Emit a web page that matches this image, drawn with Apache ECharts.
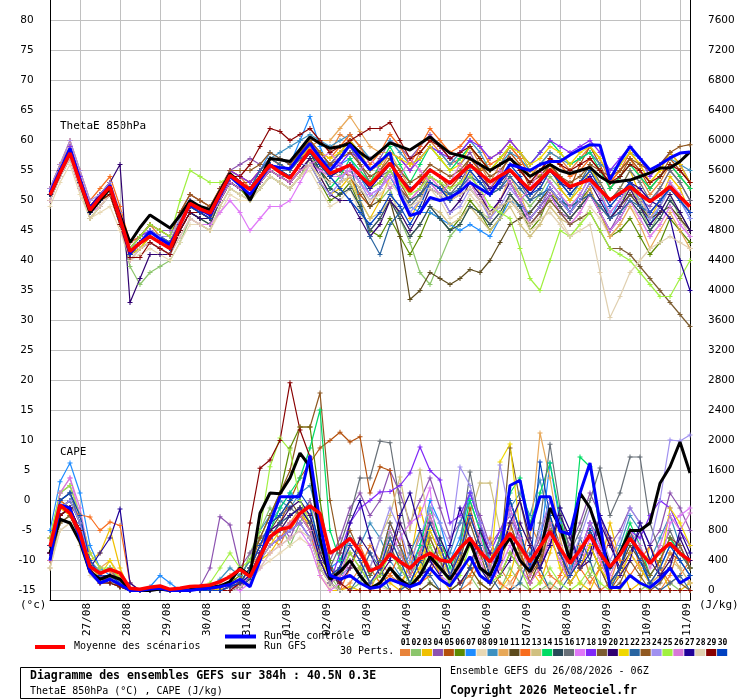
<!DOCTYPE html>
<html>
<head>
<meta charset="utf-8">
<title>Diagramme des ensembles GEFS</title>
<script src="https://cdn.jsdelivr.net/npm/echarts@6.0.0/dist/echarts.min.js"></script>
<style>
  html, body { margin: 0; padding: 0; background: #fff; }
  #chart { width: 740px; height: 700px; }
</style>
</head>
<body>
<div id="chart"></div>
<script>
// run 26/08/2026 06Z, 6h steps up to 384h
const runStartUtc = Date.UTC(2026, 7, 26, 6);
const stepHours = 6;
const stepCount = 65;

const thetaTicks = { min: -15, max: 80, interval: 5 };
const capeTicks = { min: 0, max: 7600, interval: 400 };

// ensemble mean, control run, GFS run
const meanTheta = [
  50.9,54.6,57.9,53.0,48.4,50.5,52.3,47.0,41.5,42.9,44.0,43.0,42.0,
  45.9,49.5,48.6,47.9,51.1,54.2,53.0,51.8,53.9,55.9,54.7,53.7,56.1,
  58.4,56.4,54.5,55.2,55.9,54.2,52.6,54.4,56.2,53.8,51.5,53.3,55.1,
  54.0,52.9,54.4,55.9,54.5,53.1,54.1,55.1,53.4,51.8,53.4,55.1,53.7,
  52.3,52.9,53.5,51.8,50.1,51.2,52.3,51.0,49.8,51.0,52.3,50.6,49.0];
const ctrlTheta = [
  51.3,55.0,58.7,53.5,48.7,50.6,52.5,47.0,41.2,43.0,44.8,43.6,42.6,
  46.0,49.3,48.5,47.6,50.8,54.0,52.5,51.0,53.5,55.8,55.5,55.3,57.5,
  59.5,57.2,55.0,57.0,59.3,57.2,55.1,56.5,58.0,51.0,47.5,48.0,50.5,
  50.0,50.5,51.5,53.0,52.0,51.0,53.5,56.0,55.5,55.0,56.0,56.5,56.5,
  57.6,58.5,59.3,59.2,53.5,56.5,59.0,57.0,55.1,56.0,57.1,57.9,58.1];
const gfsTheta = [
  50.8,54.5,58.2,53.0,48.0,50.0,52.0,47.5,43.0,45.5,47.6,46.5,45.4,
  47.5,50.0,49.0,48.5,51.5,54.5,53.0,50.0,53.5,57.0,56.8,56.5,58.5,
  60.6,59.5,58.7,59.0,59.5,58.0,56.8,58.2,59.6,59.0,58.4,59.5,60.6,
  59.2,57.9,57.5,57.0,56.0,55.0,56.0,57.0,55.5,54.0,55.0,56.0,55.0,
  54.5,55.0,55.5,54.0,53.0,53.2,53.4,54.0,54.6,55.4,55.4,56.5,58.1];

const meanCape = [
  584,1140,1029,762,318,229,282,233,29,16,43,60,16,
  29,53,60,73,118,184,282,184,451,718,816,842,1029,
  1127,1029,496,584,696,518,260,318,487,384,296,429,496,
  407,384,562,696,518,384,584,762,584,384,584,784,562,
  362,540,740,496,318,473,696,518,363,518,629,496,398];
const ctrlCape = [
  400,1140,1100,700,250,100,150,80,0,0,20,30,0,
  0,0,20,30,50,80,150,50,400,900,1250,1250,1250,
  1800,900,200,150,200,100,30,50,150,100,50,100,300,
  150,60,250,450,200,100,400,1400,1470,800,1250,1250,790,
  750,1300,1700,900,40,40,200,100,40,150,300,100,180];
const gfsCape = [
  500,950,900,650,250,150,200,150,10,0,0,20,0,
  0,10,30,40,60,120,300,200,1030,1300,1290,1500,1833,
  1650,700,150,250,400,200,30,100,300,150,50,200,450,
  300,150,350,650,300,200,500,700,400,250,500,1100,850,
  400,1300,1100,700,300,500,800,800,900,1430,1650,1980,1567];

// perturbations 01..30, ThetaE 850hPa (degC)
const theta01 = [51,55,59,54,49,51,53,48,42,44,46,44,43, 47,50,49,48,52,55,54,52,55,57,56,55,57, 59,60,58,61,60,56,53,55,58,57,55,58,60, 58,56,57,59,56,53,56,59,57,54,56,58,57, 55,57,59,57,53,55,57,54,51,53,56,54,52];
const theta02 = [50,54,57,52,48,49,51,46,39,36,38,39,40, 43,47,46,45,49,52,51,50,52,54,53,52,54, 57,55,54,54,55,53,51,50,52,47,43,38,36, 40,44,46,49,48,47,50,53,51,49,51,54,52, 50,53,56,52,47,49,53,49,45,48,51,47,44];
const theta03 = [51,55,58,53,48,50,52,47,42,43,45,44,43, 46,49,48,47,50,53,52,51,53,55,54,53,55, 56,54,51,52,54,50,47,50,54,51,47,50,54, 53,50,52,56,55,57,58,60,58,55,54,56,52, 50,52,55,53,50,52,55,51,47,50,54,52,48];
const theta04 = [52,56,59,54,49,51,53,48,43,44,46,45,45, 48,51,50,49,52,55,56,57,56,56,55,54,56, 58,57,56,58,60,58,55,57,60,59,57,59,61, 59,57,56,58,55,52,52,53,50,47,49,51,48, 47,49,51,48,45,48,51,50,49,52,55,53,50];
const theta05 = [51,55,58,53,48,50,51,46,41,43,45,44,42, 46,50,49,48,51,54,53,53,55,57,56,55,57, 60,58,56,55,54,51,49,52,55,53,50,52,55, 54,52,54,57,55,52,54,58,56,52,53,56,54, 52,56,59,56,52,54,57,55,52,54,57,55,53];
const theta06 = [50,54,57,52,47,49,51,46,40,42,43,42,41, 45,48,47,46,50,53,52,50,52,54,53,52,54, 56,53,50,51,53,49,45,44,47,44,41,44,48, 47,45,47,50,48,45,47,51,49,45,47,51,50, 48,50,52,48,44,45,47,44,41,43,47,45,43];
const theta07 = [51,55,58,53,49,51,52,47,41,43,44,43,42, 46,49,48,48,51,54,53,52,55,58,57,56,60, 64,59,55,56,57,54,51,52,54,51,49,48,48, 47,46,45,46,45,44,47,50,49,48,50,53,51, 48,51,54,51,47,50,53,50,46,49,53,50,47];
const theta08 = [49,53,56,51,47,48,49,45,40,41,42,41,40, 43,46,46,45,48,51,50,50,52,54,53,52,54, 55,52,49,50,52,48,45,47,51,48,45,48,52, 50,47,48,51,49,46,48,51,48,45,46,49,47, 44,46,49,47,44,46,49,47,44,46,49,47,44];
const theta09 = [51,55,58,53,48,50,52,47,42,44,45,44,43, 47,50,49,48,51,55,54,53,55,57,58,59,60, 61,60,59,60,61,59,57,58,60,58,56,57,59, 58,56,58,60,58,55,56,58,57,55,56,58,57, 56,57,58,56,55,56,58,57,55,56,57,56,55];
const theta10 = [51,56,59,54,49,51,53,48,42,43,45,44,43, 47,50,49,48,52,55,54,53,55,57,56,55,58, 60,60,60,62,64,61.5,59,58,58,55,52,53,54, 52,50,52,55,51,47,50,54,51,47,49,52,49, 47,49,52,48,44,46,49,46,42,45,48,45,42];
const theta11 = [50,54,57,52,48,50,51,46,41,42,44,43,42, 45,48,47,47,50,53,52,51,53,55,54,53,55, 57,55,53,53,54,52,49,50,50,44,33.5,35,38, 37,36,37,38.5,38,40,43,46,47,48,50,52,50, 49,50,51,49,47,49,51,49,47,48,49,47,45];
const theta12 = [52,56,60,55,50,52,54,49,43,44,46,45,44, 48,51,50,49,52,55,54,53,55,57,56,55,57, 59,58,57,59,61,59,56,58,61,59,56,59,62, 60,58,59,61,59,56,57,59,57,54,55,57,56, 54,55,57,55,53,55,58,56,53,55,58,56,53];
const theta13 = [50,54,57,52,47,49,51,46,40,42,43,42,41, 44,47,46,45,49,52,51,50,53,55,54,53,55, 57,56,55,54,53,50,47,48,50,47,44,46,49, 48,46,47,49,47,45,47,49,46,44,46,49,47, 46,48,51,49,47,49,52,50,47,49,52,50,48];
const theta14 = [51,55,58,53,48,50,52,47,42,43,44,43,42, 46,49,48,47,50,53,52,51,53,55,54,54,56, 58,55,52,54,57,55,53,56,59,56,53,56,59, 57,55,57,59,57,55,57,59,58,56,58,60,58, 56,57,58,55,52,54,56,54,52,54,56,54,52];
const theta15 = [51,55,58,53,48,50,51,46,41,42,43,42,41, 45,48,47,46,50,53,52,51,53,56,55,54,56, 58,55,52,51,52,49,45,47,50,47,44,46,49, 47,45,46,49,48,46,48,51,49,46,48,51,49, 47,49,51,48,45,47,50,48,45,47,50,48,45];
const theta16 = [50,54,57,52,48,50,52,47,41,43,45,44,43, 46,49,49,48,51,54,53,52,54,56,55,55,57, 57,55,56,58,59,56,53,54,55,52,49,51,54, 53,51,53,56,54,51,52,55,53,50,52,55,53, 51,53,56,53,50,52,55,53,50,52,55,53,50];
const theta17 = [50,54,57,52,48,49,51,46,40,42,43,42,41, 44,47,46,46,48,50,48,45,47,49,49,50,53, 56,55,54,54,55,53,51,52,54,52,50,52,54, 52,50,51,54,52,48,50,53,50,46,48,51,48, 46,48,51,48,45,47,50,47,44,46,49,46,44];
const theta18 = [51,55,59,54,49,51,52,47,42,44,45,44,43, 46,50,49,48,52,55,54,53,55,57,56,55,57, 59,57,55,56,58,57,55,56,58,57,55,57,59, 58,57,58,60,59,57,58,60,58,56,58,60,59, 58,59,60,58,55,57,59,57,54,56,58,56,53];
const theta19 = [51,55,58,53,48,50,52,47,41,43,44,43,42, 46,49,48,47,51,54,53,52,54,56,55,54,56, 58,56,54,55,56,54,52,53,55,52,50,51,53, 52,50,51,52,50,48,49,50,48,46,48,50,48, 46,47,48,45,42,42,41,39,37,35,33,31,29];
const theta20 = [51,55,58,53,49,51,53,56,33,37,41,41,41, 45,48,47,47,50,53,52,51,53,55,54,53,55, 57,54,51,50,50,47,44,46,50,48,45,48,52, 51,48,50,53,51,48,50,53,50,47,49,52,50, 48,50,53,50,47,49,52,49,46,48,51,48,45];
const theta21 = [51,55,58,53,48,50,51,46,41,42,44,43,42, 46,49,48,48,51,54,53,52,54,57,56,55,57, 59,58,57,58,60,58,55,56,58,57,56,57,59, 57,55,56,59,57,55,57,59,58,56,57,59,58, 56,58,59,57,54,56,58,56,53,55,58,56,53];
const theta22 = [51,55,58,53,48,50,52,47,42,43,45,44,43, 46,50,49,48,51,54,53,52,55,57,56,55,57, 58,56,54,55,56,50,44,41,46,48,50,51,53, 52,51,52,54,53,51,52,54,52,50,51,52,50, 49,50,51,49,47,48,50,49,48,50,52,50,48];
const theta23 = [51,55,58,53,48,50,52,47,42,44,46,45,44, 48,51,50,49,52,55,55,55,56,58,57,56,58, 60,58,56,57,58,56,54,55,57,55,53,54,56, 55,54,55,57,56,54,55,57,55,53,54,56,54, 53,54,56,55,54,55,57,56,55,56,58,59,59.3];
const theta24 = [52,56,60,55,50,51,53,48,42,43,45,44,44, 47,50,49,48,51,54,53,52,54,56,55,54,56, 56,53,51,53,56,53,50,52,55,52,48,50,53, 51,48,49,52,50,47,49,52,50,47,49,52,50, 48,50,53,51,48,50,53,51,47,49,52,50,47];
const theta25 = [51,55,58,53,48,50,52,47,42,44,46,45,44, 50,55,54,53,53,54,53,52,54,56,55,54,56, 58,56,55,55,56,54,52,53,55,53,51,52,54, 53,52,53,54,52,49,48,47,42,37,35,40,45, 44,46,48,45,42,41,40,38,36,34,34,37,40];
const theta26 = [50,54,57,52,48,50,52,47,41,43,44,43,42, 46,49,48,47,50,53,52,51,53,55,54,53,55, 56,57,58,56,54,55,57,55,52,54,57,55,53, 51,53,56,53,50,52,55,53,50,52,55,53,51, 49,51,54,51,48,50,53,51,48,50,53,51,48];
const theta27 = [51,55,58,53,48,50,52,47,41,43,44,43,42, 46,49,48,47,51,54,53,52,54,56,55,54,56, 58,56,54,55,56,54,52,54,56,54,52,53,55, 54,53,54,56,54,52,53,55,53,51,53,55,53, 52,53,54,52,50,51,53,52,50,49,47,40,35];
const theta28 = [50,54,57,52,47,49,51,46,40,42,43,42,41, 44,47,46,45,49,52,51,50,52,54,53,52,54, 56,54,53,53,54,52,50,51,53,51,49,50,52, 51,50,51,52,50,48,49,50,48,46,47,48,46, 44,45,46,38,30.5,34,38,40,42,43,44,43,42];
const theta29 = [51,55,58,53,48,50,51,46,40.5,40.5,43,42,41, 45,48,48,47,51,54,54,56,59,62,61.5,60,61, 62,60,58,59,60,61,62,62,63,60,57,58,60, 59,57,58,59,57,55,56,57,55,53,55,57,56, 55,56,57,55,53,54,56,55,53,54,56,55,53];
const theta30 = [51,55,58,53,48,50,52,47,41,43,44,43,42, 46,49,48,47,51,54,53,52,54,56,55,54,56, 58,56,54,52,50,48,46,48,51,49,46,49,53, 52,50,52,55,53,51,53,56,54,51,52,55,53, 51,53,55,52,49,51,53,51,48,50,52,50,48];

// perturbations 01..30, CAPE (J/kg)
const cape01 = [600,1200,1300,1000,500,300,250,150,0,0,20,0,0, 0,0,0,30,100,200,100,300,500,700,600,900,1100, 800,300,100,0,100,300,600,400,200,100,300,800,500, 200,0,0,100,400,700,300,100,300,900,600,200,100, 300,600,200,0,100,500,800,300,100,0,200,600,300];
const cape02 = [500,1000,1100,800,350,250,300,150,0,0,0,0,0, 0,0,0,0,0,50,100,500,800,1100,900,600,900, 1200,500,200,0,0,100,300,100,0,0,200,400,100, 0,0,100,200,0,0,0,300,100,0,0,100,0, 0,0,200,500,100,0,0,0,100,300,100,0,0];
const cape03 = [400,1100,1000,700,400,500,820,300,0,0,0,0,0, 0,0,0,0,20,100,50,200,400,500,700,800,1000, 900,200,0,0,50,0,0,300,100,0,400,1100,600, 200,0,500,300,100,0,0,200,700,300,100,500,1000, 400,100,0,300,900,400,0,100,600,300,0,0,100];
const cape04 = [700,1300,1400,1000,400,200,300,100,0,0,0,0,0, 0,20,50,300,984,873,300,500,700,800,900,700,1000, 1200,800,400,700,1100,1300,1000,1200,1600,1300,900,1200,1500, 1100,700,900,1300,1000,600,800,1000,700,400,700,1200,900, 600,900,1300,1000,600,800,1100,900,600,800,1300,1100,800];
const cape05 = [500,1100,1200,900,300,150,200,100,0,0,0,0,0, 0,0,0,0,0,50,50,200,500,700,900,1200,1500, 1700,1900,2000,2110,1980,2050,1300,1650,1600,800,200,500,900, 600,200,500,1100,600,200,500,900,500,100,300,700,400, 100,300,600,300,0,200,500,300,100,200,500,400,200];
const cape06 = [600,1200,1100,700,300,200,150,100,0,0,0,0,0, 0,0,0,0,50,100,200,400,700,1000,1300,1900,2180, 2180,1200,400,0,0,0,0,0,0,0,0,0,0, 0,0,0,0,0,0,0,0,0,0,0,0,0, 0,0,0,0,0,0,0,0,0,0,0,0,0];
const cape07 = [800,1450,1700,1300,600,300,200,100,0,0,50,200,100, 0,0,0,0,0,50,100,300,600,900,1100,1300,1200, 1000,600,300,400,700,500,200,400,900,600,300,600,1200, 900,400,700,1300,900,400,700,1200,800,300,600,1700,900, 300,500,900,500,100,300,700,400,100,300,600,400,200];
const cape08 = [300,800,900,600,200,100,100,50,0,0,0,0,0, 0,0,0,0,0,0,50,100,300,400,500,600,700, 600,200,50,0,0,0,0,0,0,0,0,0,0, 0,0,0,0,0,0,0,0,0,0,0,50,0, 0,0,0,0,0,0,0,0,0,0,0,0,0];
const cape09 = [500,1200,1300,900,400,250,300,150,0,0,0,0,0, 0,0,0,50,150,300,200,400,800,1000,1200,1100,1300, 1400,900,300,200,300,600,900,700,400,200,500,800,600, 300,500,900,1200,800,400,700,1100,1300,1000,1473,900,500, 200,500,900,700,300,600,1000,800,400,700,1000,600,300];
const cape10 = [500,1100,1200,900,500,300,400,200,0,0,0,0,0, 0,0,0,0,50,100,50,200,500,700,800,900,1100, 1000,500,200,300,600,400,100,300,600,300,100,300,700, 400,100,300,700,400,100,300,800,1200,700,2100,1500,700, 200,400,800,400,100,200,500,300,100,200,500,300,100];
const cape11 = [400,900,1000,700,300,150,150,50,0,0,0,0,0, 0,0,0,0,0,50,100,300,600,800,1000,1200,1000, 800,400,100,200,400,200,0,100,300,100,0,0,100, 0,0,100,300,100,0,200,500,300,100,400,1000,600, 200,400,800,500,100,300,600,400,200,400,700,500,300];
const cape12 = [700,1200,1100,1007,980,800,913,867,100,0,0,0,0, 0,0,0,0,50,100,100,300,600,800,700,900,1000, 800,300,100,0,300,600,300,100,200,500,300,100,200, 600,400,100,200,500,300,100,0,300,600,200,0,200, 500,300,100,300,700,400,200,400,600,300,100,200,400];
const cape13 = [300,900,1000,800,400,200,200,100,0,0,0,0,0, 0,0,0,0,0,50,100,200,500,700,800,1000,1100, 900,500,200,300,700,500,300,700,1000,1513,800,1607,700, 400,200,400,1000,1433,1433,800,900,500,200,400,700,400, 100,300,600,300,100,200,500,300,100,200,400,300,100];
const cape14 = [600,1100,1200,900,400,200,200,100,0,0,0,0,0, 0,0,0,0,0,50,100,200,500,800,1100,1300,1500, 1900,2407,800,400,700,500,200,400,800,500,200,600,1100, 700,300,600,1200,800,300,700,1300,1500,900,1300,1700,1000, 400,1780,1650,800,300,500,900,600,200,400,700,500,300];
const cape15 = [500,1000,1100,800,300,150,100,50,0,0,0,0,0, 0,0,0,0,0,0,50,150,400,600,700,800,900, 700,300,100,0,0,0,0,0,0,0,0,0,0, 0,0,0,0,0,0,0,0,0,0,0,0,0, 0,0,0,0,0,0,0,0,0,0,0,0,0];
const cape16 = [600,1200,1300,900,400,200,200,100,0,0,0,0,0, 0,0,0,0,0,50,100,300,600,900,1000,1100,1000, 800,400,300,600,1000,1500,1500,1990,1970,1170,500,400,800, 500,200,600,1580,900,300,700,1200,800,300,900,1950,1100, 500,800,1200,1633,1000,1300,1780,1780,900,500,800,500,300];
const cape17 = [400,1300,1500,1000,400,200,200,100,0,0,0,0,0, 0,0,0,0,0,50,0,100,300,500,600,700,800, 600,200,0,100,400,200,50,300,500,700,900,1000,1367, 200,100,300,700,400,100,300,600,300,100,300,700,400, 100,300,700,400,100,200,500,300,100,300,900,1000,1100];
const cape18 = [500,1100,1200,900,400,200,150,100,0,0,0,0,0, 0,0,0,0,0,50,100,200,400,600,700,800,900, 700,300,100,500,900,1100,1200,1313,1320,1400,1567,1913,1600, 1473,900,1000,1300,900,500,800,1100,700,300,500,800,500, 200,500,900,600,300,500,800,700,1000,1200,1100,800,600];
const cape19 = [400,900,1000,700,300,100,100,50,0,0,0,0,0, 0,0,0,0,0,0,50,200,400,700,900,1000,1100, 900,400,100,200,500,300,100,200,600,300,100,200,700, 400,100,400,900,500,100,400,1900,1200,600,300,900,500, 100,300,600,300,0,100,400,200,0,100,300,100,0];
const cape20 = [500,1000,1100,800,300,150,200,100,0,0,0,0,0, 0,0,0,0,0,0,50,200,500,800,900,1100,1200, 1000,500,200,100,300,700,500,200,400,900,600,200,300, 700,400,100,300,800,500,200,400,900,600,300,600,1000, 700,300,400,900,600,300,500,800,400,200,400,700,400];
const cape21 = [400,1000,1100,800,300,200,400,150,0,0,0,0,0, 0,0,0,0,0,50,100,200,400,600,800,1000,1100, 900,400,200,300,600,400,100,300,700,400,100,300,800, 500,200,500,1000,600,200,1713,1953,800,200,500,800,300, 100,300,600,300,100,200,500,300,100,300,1100,900,600];
const cape22 = [600,1100,1200,900,400,200,200,100,0,0,0,0,0, 0,0,0,0,0,50,50,200,500,700,900,1000,1100, 900,400,100,0,0,200,500,300,0,0,100,400,200, 0,0,0,300,600,200,0,0,100,500,300,0,0, 200,700,400,0,0,300,800,500,100,0,100,200,0];
const cape23 = [500,1000,1100,800,300,150,150,50,0,0,0,0,0, 0,0,0,0,0,50,100,300,700,1000,1300,1600,2180, 2180,2633,1200,500,800,500,200,400,900,600,200,500,1000, 600,200,500,1000,600,200,500,900,500,200,400,800,500, 200,400,800,500,100,300,700,500,200,400,700,600,300];
const cape24 = [500,1100,1200,900,400,200,200,100,0,0,0,0,0, 0,0,0,0,0,50,100,200,400,600,700,800,900, 700,300,100,300,700,500,300,700,1100,800,400,700,1100, 900,600,1647,1400,900,600,1673,1000,600,400,800,1200,800, 400,700,1100,800,400,700,1100,900,600,1200,2007,1993,2073];
const cape25 = [700,1300,1400,1000,500,300,300,150,0,0,0,0,0, 0,0,0,100,300,500,300,400,800,1650,2033,1873,1200, 900,300,100,200,500,300,100,200,500,300,100,200,600, 300,100,200,600,300,100,200,500,300,0,100,300,100, 0,100,300,100,0,0,200,100,0,0,0,0,0];
const cape26 = [400,1300,1500,1100,400,200,200,100,0,0,0,0,0, 0,0,0,0,0,50,50,200,500,700,800,900,1000, 800,400,100,200,600,400,100,300,800,500,200,500,1000, 600,200,500,1000,700,300,600,1100,700,200,500,900,600, 200,500,900,600,200,500,800,600,300,600,1000,800,1033];
const cape27 = [500,1000,1100,800,300,500,700,1087,100,0,0,0,0, 0,0,0,0,0,50,100,200,500,700,800,1000,1100, 900,400,100,300,900,1200,700,300,500,1000,1300,800,400, 200,600,1100,700,300,100,400,900,1200,700,300,600,1100, 800,300,500,1000,700,200,400,900,600,200,300,800,500];
const cape28 = [300,800,900,700,300,150,200,100,0,0,0,0,0, 0,0,0,0,0,0,50,100,300,500,600,700,800, 700,300,100,0,0,0,0,50,0,0,0,0,0, 0,0,0,0,0,0,0,100,0,0,0,0,0, 0,0,0,0,0,0,0,0,0,0,0,0,0];
const cape29 = [500,1000,1100,800,300,100,100,50,0,0,0,0,0, 0,0,0,0,0,0,100,900,1630,1740,2000,2770,2140, 1780,900,300,100,0,0,0,0,0,0,0,0,0, 0,0,0,0,0,0,0,0,0,0,0,0,0, 0,0,0,0,0,0,0,0,0,0,0,0,0];
const cape30 = [600,1200,1300,1000,400,200,200,100,0,0,0,0,0, 0,0,0,0,0,50,100,300,600,900,1000,1200,1300, 1100,600,200,300,600,400,100,300,700,400,100,400,900, 600,200,500,1000,600,200,600,1200,800,300,1713,1000,500, 200,400,800,500,100,300,700,400,100,300,600,400,200];

const memberColors = [
  '#e8833a', '#8bc56b', '#f0c000', '#8c52b0', '#b4500c', '#5c8a00',
  '#1e8cff', '#e8d8b4', '#3c90c0', '#e8a858', '#5c4a1c', '#f86c1c',
  '#d0c080', '#00dc64', '#284858', '#687078', '#e078f8', '#8028f8',
  '#7c5c30', '#300070', '#f0d800', '#2864a0', '#905820', '#a090f0',
  '#a0f040', '#d878d8', '#200098', '#e0d0b0', '#880000', '#0040c0'];

const thetaPerts = [theta01, theta02, theta03, theta04, theta05, theta06,
  theta07, theta08, theta09, theta10, theta11, theta12, theta13, theta14,
  theta15, theta16, theta17, theta18, theta19, theta20, theta21, theta22,
  theta23, theta24, theta25, theta26, theta27, theta28, theta29, theta30];
const capePerts = [cape01, cape02, cape03, cape04, cape05, cape06, cape07,
  cape08, cape09, cape10, cape11, cape12, cape13, cape14, cape15, cape16,
  cape17, cape18, cape19, cape20, cape21, cape22, cape23, cape24, cape25,
  cape26, cape27, cape28, cape29, cape30];

[meanTheta, ctrlTheta, gfsTheta, meanCape, ctrlCape, gfsCape]
  .concat(thetaPerts, capePerts).forEach((arr, i) => {
    if (arr.length !== stepCount) throw new Error('series ' + i + ' has ' + arr.length);
  });

const pad2 = (n) => String(n).padStart(2, '0');

// category names: "dd/mm HHZ" for every 6h step
const steps = [];
for (let i = 0; i < stepCount; i++) {
  const d = new Date(runStartUtc + i * stepHours * 3600 * 1000);
  steps.push(pad2(d.getUTCDate()) + '/' + pad2(d.getUTCMonth() + 1) + ' ' + pad2(d.getUTCHours()) + 'Z');
}
const isMidnight = (idx) => steps[idx].endsWith('00Z');

const mono = '"DejaVu Sans Mono", "Liberation Mono", monospace';
const sans = '"DejaVu Sans", "Liberation Sans", sans-serif';
const plus = 'path://M2,0H3V2H5V3H3V5H2V3H0V2H2Z';

function memberSeries(data, color, yIndex) {
  return {
    type: 'line', xAxisIndex: 0, yAxisIndex: yIndex, data: data,
    symbol: plus, symbolSize: 5, showAllSymbol: true,
    itemStyle: { color: color },
    lineStyle: { color: color, width: 1.2 },
    silent: true, z: 2,
  };
}

function runSeries(data, color, width, yIndex, z) {
  return {
    type: 'line', xAxisIndex: 0, yAxisIndex: yIndex, data: data,
    showSymbol: false,
    lineStyle: { color: color, width: width },
    silent: true, z: z,
  };
}

const series = [];
thetaPerts.forEach((d, i) => series.push(memberSeries(d, memberColors[i], 0)));
capePerts.forEach((d, i) => series.push(memberSeries(d, memberColors[i], 1)));
series.push(runSeries(gfsTheta, '#000000', 3, 0, 4));
series.push(runSeries(gfsCape, '#000000', 3, 1, 4));
series.push(runSeries(ctrlTheta, '#0000ff', 3, 0, 5));
series.push(runSeries(ctrlCape, '#0000ff', 3, 1, 5));
series.push(runSeries(meanTheta, '#ff0000', 3.5, 0, 6));
series.push(runSeries(meanCape, '#ff0000', 3.5, 1, 6));

// legend and caption graphics
const graphics = [
  { type: 'text', left: 60, top: 121, style: { text: 'ThetaE 850hPa', font: '11px ' + mono, fill: '#000' } },
  { type: 'text', left: 60, top: 447, style: { text: 'CAPE', font: '11px ' + mono, fill: '#000' } },
  { type: 'text', left: 20, top: 600, style: { text: '(°c)', font: '11px ' + mono, fill: '#000' } },
  { type: 'text', left: 699, top: 600, style: { text: '(J/kg)', font: '11px ' + mono, fill: '#000' } },
  { type: 'line', shape: { x1: 35, y1: 647, x2: 65, y2: 647 }, style: { stroke: '#ff0000', lineWidth: 4 } },
  { type: 'text', left: 74, top: 641, style: { text: 'Moyenne des scénarios', font: '10px ' + mono, fill: '#000' } },
  { type: 'line', shape: { x1: 225, y1: 636.5, x2: 256, y2: 636.5 }, style: { stroke: '#0000ff', lineWidth: 4 } },
  { type: 'text', left: 264, top: 631, style: { text: 'Run de contrôle', font: '10px ' + mono, fill: '#000' } },
  { type: 'line', shape: { x1: 225, y1: 646.5, x2: 256, y2: 646.5 }, style: { stroke: '#000000', lineWidth: 4 } },
  { type: 'text', left: 264, top: 641, style: { text: 'Run GFS', font: '10px ' + mono, fill: '#000' } },
  { type: 'text', left: 340, top: 646, style: { text: '30 Perts.', font: '10px ' + mono, fill: '#000' } },
  { type: 'rect', shape: { x: 20.5, y: 667.5, width: 420, height: 31 }, style: { fill: 'none', stroke: '#000', lineWidth: 1 } },
  { type: 'text', left: 30, top: 670, style: { text: 'Diagramme des ensembles GEFS sur 384h : 40.5N 0.3E', font: 'bold 11.5px ' + mono, fill: '#000' } },
  { type: 'text', left: 30, top: 686, style: { text: 'ThetaE 850hPa (°C) , CAPE (J/kg)', font: '10px ' + mono, fill: '#000' } },
  { type: 'text', left: 450, top: 666, style: { text: 'Ensemble GEFS du 26/08/2026 - 06Z', font: '10px ' + mono, fill: '#000' } },
  { type: 'text', left: 450, top: 685, style: { text: 'Copyright 2026 Meteociel.fr', font: 'bold 11.5px ' + mono, fill: '#000' } },
];
const boxW = 328 / memberColors.length;
memberColors.forEach((c, i) => {
  const x = 400 + i * boxW;
  graphics.push({ type: 'rect', shape: { x: x, y: 649, width: boxW - 0.8, height: 7 }, style: { fill: c } });
  graphics.push({ type: 'text', x: x + boxW / 2, y: 643, style: {
    text: pad2(i + 1), font: 'bold 8px ' + mono, fill: '#000', align: 'center', verticalAlign: 'middle' } });
});

const chart = echarts.init(document.getElementById('chart'), null, { renderer: 'canvas' });
chart.setOption({
  animation: false,
  backgroundColor: '#ffffff',
  textStyle: { fontFamily: sans },
  grid: [
    { left: 50, right: 50, top: 20.5, bottom: 109.5 },
    { left: 50, right: 50, top: 0, bottom: 100 },
  ],
  xAxis: [
    {
      type: 'category', gridIndex: 0, data: steps, boundaryGap: false,
      axisLine: { show: false }, axisTick: { show: false },
      axisLabel: { show: false }, splitLine: { show: false },
    },
    {
      type: 'category', gridIndex: 1, data: steps, boundaryGap: false,
      position: 'bottom',
      axisLine: { show: true, lineStyle: { color: '#000', width: 1 } },
      axisTick: { show: false },
      splitLine: { show: true, interval: isMidnight, lineStyle: { color: '#c0c0c0', width: 1 } },
      axisLabel: {
        interval: isMidnight, rotate: 90, margin: 3,
        verticalAlign: 'top', lineHeight: 14,
        formatter: (v) => v.slice(0, 5),
        fontFamily: mono, fontSize: 11, color: '#000',
      },
    },
  ],
  yAxis: [
    {
      type: 'value', gridIndex: 0, position: 'left',
      min: thetaTicks.min, max: thetaTicks.max, interval: thetaTicks.interval,
      axisLine: { show: false }, axisTick: { show: false },
      splitLine: { show: true, lineStyle: { color: '#c0c0c0', width: 1 } },
      axisLabel: { margin: 23, align: 'center', fontSize: 10.5, color: '#000', fontFamily: sans },
    },
    {
      type: 'value', gridIndex: 0, position: 'right',
      min: capeTicks.min, max: capeTicks.max, interval: capeTicks.interval,
      axisLine: { show: false }, axisTick: { show: false },
      splitLine: { show: false },
      axisLabel: { margin: 18, align: 'left', fontSize: 10.5, color: '#000', fontFamily: sans,
        formatter: (v) => String(v) },
    },
    {
      type: 'value', gridIndex: 1, position: 'left', min: 0, max: 1,
      axisLine: { show: true, lineStyle: { color: '#000', width: 1 } },
      axisTick: { show: false }, axisLabel: { show: false }, splitLine: { show: false },
    },
    {
      type: 'value', gridIndex: 1, position: 'right', min: 0, max: 1,
      axisLine: { show: true, lineStyle: { color: '#000', width: 1 } },
      axisTick: { show: false }, axisLabel: { show: false }, splitLine: { show: false },
    },
  ],
  series: series,
  graphic: graphics,
});
</script>
</body>
</html>
